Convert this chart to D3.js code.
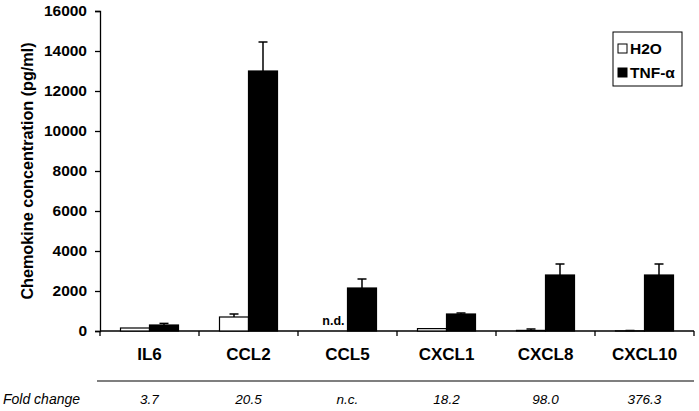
<!DOCTYPE html>
<html><head><meta charset="utf-8">
<script src="https://cdn.jsdelivr.net/npm/d3@7"></script>
<style>body{margin:0;background:#fff}svg{display:block;font-family:"Liberation Sans",Arial,sans-serif}</style>
</head><body><svg id="c" width="699" height="411"></svg>
<script>
const categories = ["IL6","CCL2","CCL5","CXCL1","CXCL8","CXCL10"];
const seriesNames = ["H2O","TNF-α"];
const h2oValues = [150, 700, 0, 120, 30, 10];
const h2oErrors = [0, 150, 0, 0, 70, 15];
const tnfValues = [300, 13000, 2150, 850, 2800, 2800];
const tnfErrors = [80, 1450, 450, 50, 550, 550];
const foldChange = ["3.7","20.5","n.c.","18.2","98.0","376.3"];
const notDetected = [false, false, true, false, false, false];
const yTicks = [0,2000,4000,6000,8000,10000,12000,14000,16000];

(function(){
const svg = d3.select("#c");
const mL = 100, mR = 694, mT = 11, mB = 331;
const y = d3.scaleLinear().domain([0,16000]).range([mB, mT]);
const x0 = d3.scaleBand().domain(categories).range([mL, mR]).paddingInner(0).paddingOuter(0);
const x1 = d3.scaleBand().domain(seriesNames).range([0, x0.bandwidth()]).paddingOuter(0.707).paddingInner(0);

// y axis
const yAxis = svg.append("g").attr("transform", `translate(${mL},0)`)
  .call(d3.axisLeft(y).tickValues(yTicks).tickSize(5).tickPadding(8).tickFormat(d3.format("d")));
yAxis.select(".domain").attr("stroke","#000").attr("stroke-width",1.3);
yAxis.selectAll(".tick line").attr("stroke","#000").attr("stroke-width",1.3);
yAxis.selectAll(".tick text").attr("font-size",15.5).attr("font-weight","bold").attr("fill","#000")
  .attr("font-family","Liberation Sans, Arial, sans-serif");

// x axis
const xAxis = svg.append("g").attr("transform", `translate(0,${mB})`);
xAxis.append("line").attr("x1",mL).attr("x2",mR).attr("stroke","#000").attr("stroke-width",1.3);
const boundaries = categories.map(c => x0(c)).concat([mR]);
xAxis.selectAll("line.tk").data(boundaries).join("line").attr("class","tk")
  .attr("x1",d=>d).attr("x2",d=>d).attr("y1",0).attr("y2",5).attr("stroke","#000").attr("stroke-width",1.3);

// bars
const data = categories.map((c,i)=>({c, vals:[
  {s:"H2O", v:h2oValues[i], e:h2oErrors[i], nd:notDetected[i]},
  {s:"TNF-α", v:tnfValues[i], e:tnfErrors[i], nd:false}]}));
const g = svg.append("g");
data.forEach(d=>{
  d.vals.forEach(b=>{
    if (b.nd) return;
    const bx = x0(d.c)+x1(b.s), bw = x1.bandwidth();
    const isH = b.s==="H2O";
    if (b.e>0){
      const cx = bx + bw/2;
      g.append("line").attr("x1",cx).attr("x2",cx).attr("y1",y(b.v)).attr("y2",y(b.v+b.e)).attr("stroke","#000").attr("stroke-width",1.5);
      g.append("line").attr("x1",cx-4.5).attr("x2",cx+4.5).attr("y1",y(b.v+b.e)).attr("y2",y(b.v+b.e)).attr("stroke","#000").attr("stroke-width",1.5);
    }
    g.append("rect").attr("x",bx).attr("y",y(b.v)).attr("width",bw).attr("height",Math.max(0,y(0)-y(b.v)))
      .attr("fill", isH?"#fff":"#000").attr("stroke","#000").attr("stroke-width",1.2);
  });
  if (d.vals[0].nd){
    g.append("text").attr("x",x0(d.c)+x1("TNF-α")-3).attr("y",325).attr("text-anchor","end")
      .attr("font-size",12.5).attr("font-weight","bold").text("n.d.");
  }
});

// category labels
svg.selectAll("text.cat").data(categories).join("text").attr("class","cat")
  .attr("x",d=>x0(d)+x0.bandwidth()/2).attr("y",360).attr("text-anchor","middle")
  .attr("font-size",17).attr("font-weight","bold").text(d=>d);

// fold change row
svg.append("line").attr("x1",97).attr("x2",mR).attr("y1",381).attr("y2",381).attr("stroke","#000").attr("stroke-width",1.2);
svg.append("text").attr("x",3).attr("y",404).attr("font-size",14).attr("font-style","italic").text("Fold change");
svg.selectAll("text.fc").data(foldChange).join("text").attr("class","fc")
  .attr("x",(d,i)=>x0(categories[i])+x0.bandwidth()/2).attr("y",404).attr("text-anchor","middle")
  .attr("font-size",13.5).attr("font-style","italic").text(d=>d);

// y title
svg.append("text").attr("transform","translate(33,171) rotate(-90)").attr("text-anchor","middle")
  .attr("font-size",16.2).attr("font-weight","bold").text("Chemokine concentration (pg/ml)");

// legend
const lg = svg.append("g");
lg.append("rect").attr("x",613).attr("y",32).attr("width",69).attr("height",54).attr("fill","#fff").attr("stroke","#000").attr("stroke-width",1);
seriesNames.forEach((s,i)=>{
  const ly = 49 + i*24;
  lg.append("rect").attr("x",618).attr("y",ly-5).attr("width",9).attr("height",9)
    .attr("fill", i===0?"#fff":"#000").attr("stroke","#000").attr("stroke-width",1);
  lg.append("text").attr("x",630).attr("y",ly+5).attr("font-size",15.5).attr("font-weight","bold").text(s);
});
})();
</script></body></html>
